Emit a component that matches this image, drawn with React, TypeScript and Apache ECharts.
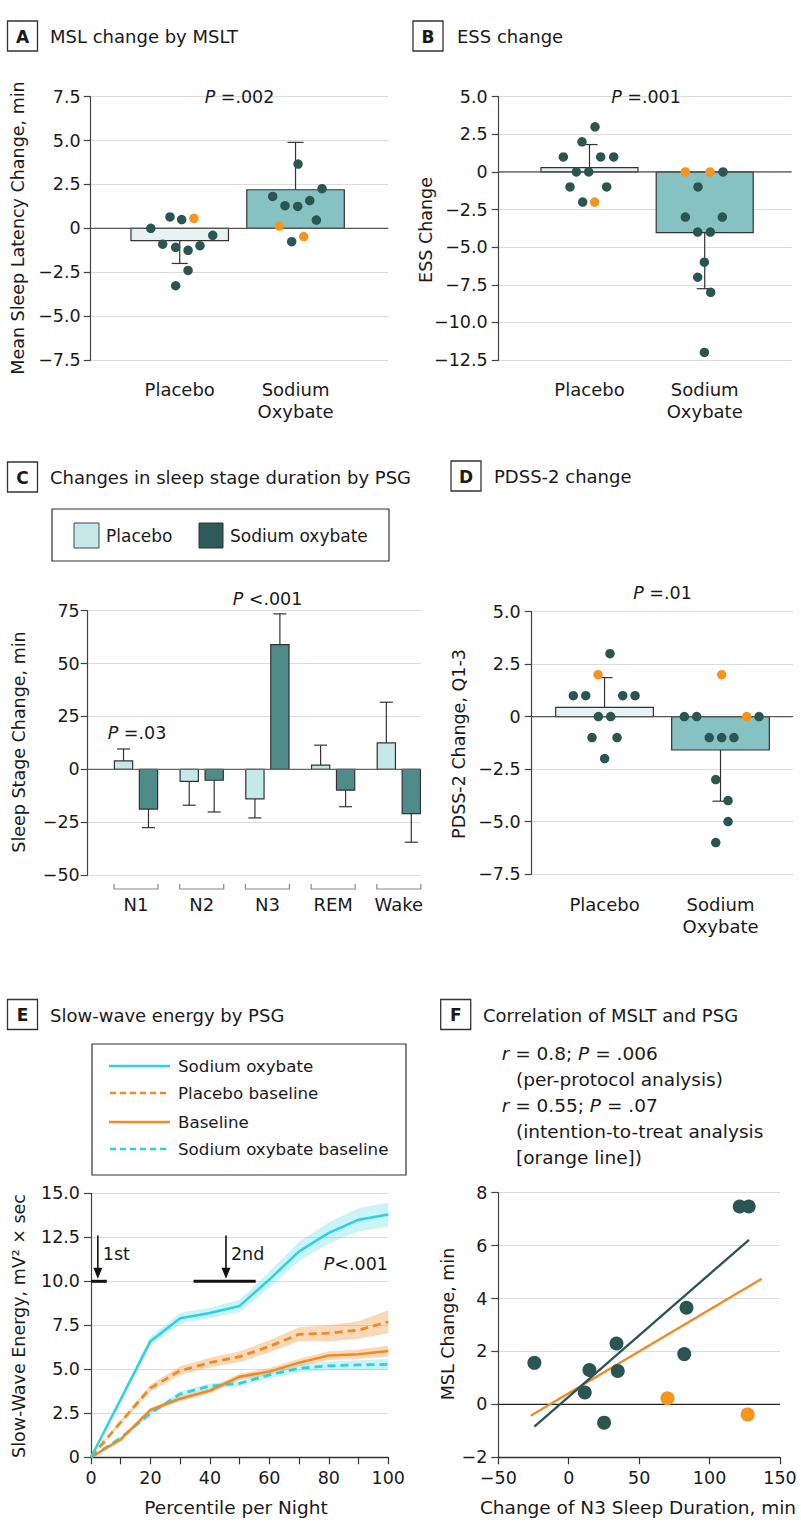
import React, { useEffect, useRef } from 'react';
import * as echarts from 'echarts';

// ---------------- data ----------------
const groupNames = ['Placebo', 'Sodium\nOxybate'];

// Panel A – MSL change by MSLT
const aMeans = [-0.7, 2.2];
const aErrEnds = [-2.0, 4.9];
const aPlaceboDark = [0.0, 0.65, 0.5, -0.4, -0.9, -1.08, -1.25, -0.99, -2.4, -3.27];
const aPlaceboOrange = [0.57];
const aSodiumDark = [3.66, 1.82, 2.26, 1.29, 1.25, 1.58, 0.47, -0.76];
const aSodiumOrange = [0.13, -0.47];
const aPlaceboDarkJit = [-0.25, -0.084, 0.017, 0.285, -0.147, -0.035, 0.072, 0.175, 0.072, -0.035];
const aPlaceboOrangeJit = [0.123];
const aSodiumDarkJit = [0.022, -0.197, 0.229, -0.091, 0.019, 0.123, 0.18, -0.033];
const aSodiumOrangeJit = [-0.14, 0.071];

// Panel B – ESS change
const bMeans = [0.29, -4.04];
const bErrEnds = [1.82, -7.76];
const bPlaceboDark = [3, 2, 1, 1, 1, 0, 0, -1, -1, -2];
const bPlaceboOrange = [-2];
const bSodiumDark = [0, -1, -3, -3, -4, -4, -6, -7, -8, -12];
const bSodiumOrange = [0, 0];
const bPlaceboDarkJit = [0.048, -0.065, -0.227, 0.097, 0.21, -0.114, -0.007, -0.169, 0.149, -0.059];
const bPlaceboOrangeJit = [0.045];
const bSodiumDarkJit = [0.159, -0.058, -0.168, 0.153, -0.061, 0.049, -0.003, -0.061, 0.052, -0.003];
const bSodiumOrangeJit = [-0.168, 0.046];

// Panel C – sleep stage changes
const cStages = ['N1', 'N2', 'N3', 'REM', 'Wake'];
const cPlaceboMean = [4, -5.7, -14, 2, 12.5];
const cPlaceboErr = [9.6, -17, -23, 11.4, 31.7];
const cSodiumMean = [-18.8, -5.2, 59, -9.9, -21];
const cSodiumErr = [-27.6, -20.2, 73.5, -17.7, -34.5];

// Panel D – PDSS-2 change
const dMeans = [0.44, -1.59];
const dErrEnds = [1.86, -4.03];
const dPlaceboDark = [3, 1, 1, 1, 1, 0, 0, -1, -1, -2];
const dPlaceboOrange = [2];
const dSodiumDark = [0, 0, 0, -1, -1, -1, -3, -4, -5, -6];
const dSodiumOrange = [2, 0];
const dPlaceboDarkJit = [0.047, -0.269, -0.162, 0.157, 0.263, -0.053, 0.053, -0.108, 0.108, 0.001];
const dPlaceboOrangeJit = [-0.056];
const dSodiumDarkJit = [-0.312, -0.205, 0.332, -0.097, 0.01, 0.116, -0.041, 0.065, 0.065, -0.041];
const dSodiumOrangeJit = [0.01, 0.226];

// Panel E – slow-wave energy
const ePct = [0, 10, 20, 30, 40, 50, 60, 70, 80, 90, 100];
const eSodium = [0, 3.3, 6.6, 7.9, 8.2, 8.6, 10.1, 11.7, 12.75, 13.5, 13.8];
const eSodiumSE = [0, 0.15, 0.25, 0.3, 0.3, 0.35, 0.45, 0.55, 0.6, 0.65, 0.68];
const ePlaceboBase = [0, 2.0, 3.94, 4.92, 5.38, 5.72, 6.3, 6.99, 7.05, 7.23, 7.7];
const ePlaceboBaseSE = [0, 0.12, 0.2, 0.25, 0.28, 0.3, 0.35, 0.4, 0.45, 0.5, 0.65];
const eBaseline = [0, 1.02, 2.69, 3.33, 3.79, 4.58, 4.87, 5.38, 5.78, 5.85, 6.04];
const eBaselineSE = [0, 0.08, 0.12, 0.15, 0.15, 0.18, 0.2, 0.22, 0.25, 0.27, 0.3];
const eSodiumBase = [0, 1.1, 2.5, 3.6, 4.05, 4.2, 4.68, 5.05, 5.2, 5.25, 5.28];
const eSodiumBaseSE = [0, 0.08, 0.12, 0.15, 0.15, 0.18, 0.2, 0.22, 0.25, 0.27, 0.3];
const eDoseArrowX = [2.3, 45.4];
const eDoseWindowStart = [0, 34.5];
const eDoseWindowEnd = [5.3, 55.4];
const eDoseLabels = ['1st', '2nd'];

// Panel F – correlation
const fDarkN3 = [-24.4, 14.7, 11.4, 33.9, 34.8, 25.1, 82, 83.6, 121.4, 127.8];
const fDarkMSL = [1.57, 1.3, 0.45, 2.3, 1.26, -0.69, 1.9, 3.65, 7.48, 7.48];
const fOrangeN3 = [70.1, 127];
const fOrangeMSL = [0.23, -0.38];
const fPerProtocolFit = [[-24.4, -0.84], [128, 6.22]];
const fIttFit = [[-27, -0.43], [137, 4.75]];

// ---------------- styles ----------------
const FONT = 'DejaVu Sans';
const INK = '#1a1a1a';
const AXIS = '#444';
const GRIDC = '#dcdcdc';
const DOT = '#2b5553';
const ORANGE = '#f7941d';
const CYAN = '#2bd3e2';
const ORANGE_LINE = '#f08a24';
const PLACEBO_FILL = '#e7f2f2';
const SODIUM_FILL = '#86c2c1';
const C_PLACEBO = '#c7e8e8';
const C_SODIUM = '#4f8b89';
const C_SODIUM_LEG = '#2e5a59';
const CYAN_BAND = 'rgba(43,211,226,0.25)';
const ORANGE_BAND = 'rgba(240,138,36,0.32)';
const TICK_FS = 17.5;

const A_X = [-0.7686, 1.801];
const B_X = [-0.788, 1.755];
const C_X = [-0.735, 4.333];
const D_X = [-0.628, 1.625];

const isZero = (v: number) => Math.abs(v) < 1e-9;
const fmt1 = (v: number) => (isZero(v) ? '0' : (v < 0 ? '\u2212' : '') + Math.abs(v).toFixed(1));
const fmt0 = (v: number) => (isZero(v) ? '0' : (v < 0 ? '\u2212' : '') + Math.abs(v).toFixed(0));

const dots = (g: number, vals: number[], jit: number[]) => vals.map((v, i) => [g + jit[i], v]);

function barRender(halfW: number, capPx: number, fills: string[] | string) {
  return (params: any, api: any) => {
    const x = api.value(0);
    const v = api.value(1);
    const e = api.value(2);
    const fill = Array.isArray(fills) ? fills[params.dataIndex] : fills;
    const p0 = api.coord([x - halfW, 0]);
    const p1 = api.coord([x + halfW, v]);
    const pv = api.coord([x, v]);
    const pe = api.coord([x, e]);
    return {
      type: 'group',
      children: [
        { type: 'line', shape: { x1: pv[0], y1: pv[1], x2: pe[0], y2: pe[1] }, style: { stroke: '#333', lineWidth: 1.2 } },
        { type: 'line', shape: { x1: pe[0] - capPx, y1: pe[1], x2: pe[0] + capPx, y2: pe[1] }, style: { stroke: '#333', lineWidth: 1.2 } },
        {
          type: 'rect',
          shape: {
            x: Math.min(p0[0], p1[0]),
            y: Math.min(p0[1], p1[1]),
            width: Math.abs(p1[0] - p0[0]),
            height: Math.abs(p1[1] - p0[1]),
          },
          style: { fill, stroke: '#333', lineWidth: 1.2 },
        },
      ],
    };
  };
}

const yAxisCfg = (gridIndex: number, min: number, max: number, interval: number, fmt: any, margin: number) => ({
  type: 'value',
  gridIndex,
  min,
  max,
  interval,
  axisLine: { show: true, onZero: false, lineStyle: { color: AXIS, width: 1.2 } },
  axisTick: { show: true, length: 7, lineStyle: { color: AXIS, width: 1.2 } },
  axisLabel: { fontSize: TICK_FS, color: INK, fontFamily: FONT, margin, formatter: fmt },
  splitLine: { show: true, lineStyle: { color: GRIDC, width: 1.2 } },
});

const catXAxis = (gridIndex: number, range: number[], names: string[], margin: number) => ({
  type: 'value',
  gridIndex,
  min: range[0],
  max: range[1],
  axisLine: { show: false, onZero: false },
  axisTick: { show: false },
  splitLine: { show: false },
  axisLabel: {
    customValues: names.map((_, i) => i),
    formatter: (v: number) => names[Math.round(v)] ?? '',
    fontSize: 18,
    lineHeight: 22,
    margin,
    color: INK,
    fontFamily: FONT,
  },
});

const zeroLine = (idx: number, range: number[], color = '#555') => ({
  type: 'line',
  xAxisIndex: idx,
  yAxisIndex: idx,
  data: [[range[0], 0], [range[1], 0]],
  symbol: 'none',
  lineStyle: { color, width: 1.3 },
  z: 3,
  silent: true,
});

const scatter = (idx: number, data: number[][], color: string, size: number) => ({
  type: 'scatter',
  xAxisIndex: idx,
  yAxisIndex: idx,
  data,
  symbolSize: size,
  itemStyle: { color, opacity: 1 },
  z: 4,
  silent: true,
});

const groupBars = (idx: number, means: number[], errs: number[]) => ({
  type: 'custom',
  xAxisIndex: idx,
  yAxisIndex: idx,
  data: means.map((m, i) => [i, m, errs[i]]),
  renderItem: barRender(0.421, 8, [PLACEBO_FILL, SODIUM_FILL]),
  z: 2,
  silent: true,
});

const eLine = (vals: number[], color: string, dashed: boolean) => ({
  type: 'line',
  xAxisIndex: 4,
  yAxisIndex: 4,
  data: ePct.map((x, i) => [x, vals[i]]),
  symbol: 'none',
  lineStyle: { color, width: dashed ? 2.8 : 2.5, type: dashed ? [8, 5] : 'solid' },
  z: 3,
  silent: true,
});

// ---------------- graphic helpers ----------------
const T = (x: number, y: number, text: string, extra: any = {}) => ({
  type: 'text',
  x,
  y,
  z: 20,
  style: {
    text,
    fontFamily: FONT,
    fontSize: 17,
    fill: INK,
    align: 'left',
    verticalAlign: 'middle',
    ...extra,
  },
});

const RT = (x: number, y: number, text: string, size: number, extra: any = {}) =>
  T(x, y, text, {
    fontSize: size,
    rich: {
      i: { fontStyle: 'italic', fontSize: size, fontFamily: FONT, fill: INK },
      n: { fontSize: size, fontFamily: FONT, fill: INK },
    },
    ...extra,
  });

const VT = (x: number, y: number, text: string, size: number) => ({
  type: 'text',
  x,
  y,
  rotation: Math.PI / 2,
  z: 20,
  style: { text, fontFamily: FONT, fontSize: size, fill: INK, align: 'center', verticalAlign: 'middle' },
});

const panelHead = (x: number, y: number, letter: string, title: string, tx: number) => [
  { type: 'rect', z: 20, shape: { x, y, width: 30, height: 30 }, style: { fill: '#fff', stroke: '#333', lineWidth: 1.3 } },
  T(x + 15, y + 15.5, letter, { fontWeight: 'bold', align: 'center' }),
  T(tx, y + 15.5, title, { fontSize: 18 }),
];

export default function App() {
  const ref = useRef<HTMLDivElement>(null);

  useEffect(() => {
    if (!ref.current) return;
    const chart = echarts.init(ref.current, undefined, { renderer: 'svg' });

    const grids = [
      { left: 90.7, top: 96.7, width: 297.6, height: 263.3 },
      { left: 498.7, top: 96.7, width: 293, height: 263.3 },
      { left: 87.7, top: 610.7, width: 333, height: 264.3 },
      { left: 531.7, top: 611.7, width: 261.3, height: 262.3 },
      { left: 91, top: 1193.3, width: 297.3, height: 264 },
      { left: 498.3, top: 1192.7, width: 281.7, height: 264.6 },
    ].map((g) => ({ ...g, containLabel: false, outerBoundsMode: 'none' }));

    const xAxes = [
      catXAxis(0, A_X, groupNames, 18),
      catXAxis(1, B_X, groupNames, 18),
      catXAxis(2, C_X, cStages, 18),
      catXAxis(3, D_X, groupNames, 19),
      {
        type: 'value',
        gridIndex: 4,
        min: 0,
        max: 100,
        interval: 10,
        axisLine: { show: true, onZero: false, lineStyle: { color: '#333', width: 1.3 } },
        axisTick: { show: true, length: 7, lineStyle: { color: '#333', width: 1.2 } },
        axisLabel: {
          fontSize: TICK_FS,
          color: INK,
          fontFamily: FONT,
          margin: 12,
          formatter: (v: number) => (Math.round(v) % 20 === 0 ? String(Math.round(v)) : ''),
        },
        splitLine: { show: false },
      },
      {
        type: 'value',
        gridIndex: 5,
        min: -50,
        max: 150,
        interval: 50,
        axisLine: { show: true, onZero: false, lineStyle: { color: '#333', width: 1.3 } },
        axisTick: { show: true, length: 7, lineStyle: { color: '#333', width: 1.2 } },
        axisLabel: { fontSize: TICK_FS, color: INK, fontFamily: FONT, margin: 12, formatter: fmt0 },
        splitLine: { show: false },
      },
    ];

    const yAxes = [
      yAxisCfg(0, -7.5, 7.5, 2.5, fmt1, 10),
      yAxisCfg(1, -12.5, 5, 2.5, fmt1, 11),
      yAxisCfg(2, -50, 75, 25, fmt0, 8),
      yAxisCfg(3, -7.5, 5, 2.5, fmt1, 11),
      yAxisCfg(4, 0, 15, 2.5, fmt1, 11),
      yAxisCfg(5, -2, 8, 2, fmt0, 11),
    ];

    const cBarSeries = (means: number[], errs: number[], offset: number, fill: string) => ({
      type: 'custom',
      xAxisIndex: 2,
      yAxisIndex: 2,
      data: means.map((m, i) => [i + offset, m, errs[i]]),
      renderItem: barRender(0.139, 6.5, fill),
      z: 2,
      silent: true,
    });

    // confidence bands for panel E, drawn as polygons through the axis scales
    const bandMids = [eSodium, ePlaceboBase, eBaseline, eSodiumBase];
    const bandSEs = [eSodiumSE, ePlaceboBaseSE, eBaselineSE, eSodiumBaseSE];
    const bandColors = [CYAN_BAND, ORANGE_BAND, ORANGE_BAND, CYAN_BAND];

    const series: any[] = [
      // A
      groupBars(0, aMeans, aErrEnds),
      zeroLine(0, A_X),
      scatter(0, dots(0, aPlaceboDark, aPlaceboDarkJit), DOT, 9.5),
      scatter(0, dots(1, aSodiumDark, aSodiumDarkJit), DOT, 9.5),
      scatter(0, dots(0, aPlaceboOrange, aPlaceboOrangeJit), ORANGE, 9.5),
      scatter(0, dots(1, aSodiumOrange, aSodiumOrangeJit), ORANGE, 9.5),
      // B
      groupBars(1, bMeans, bErrEnds),
      zeroLine(1, B_X),
      scatter(1, dots(0, bPlaceboDark, bPlaceboDarkJit), DOT, 9.5),
      scatter(1, dots(1, bSodiumDark, bSodiumDarkJit), DOT, 9.5),
      scatter(1, dots(0, bPlaceboOrange, bPlaceboOrangeJit), ORANGE, 9.5),
      scatter(1, dots(1, bSodiumOrange, bSodiumOrangeJit), ORANGE, 9.5),
      // C
      cBarSeries(cPlaceboMean, cPlaceboErr, -0.19, C_PLACEBO),
      cBarSeries(cSodiumMean, cSodiumErr, 0.19, C_SODIUM),
      zeroLine(2, C_X, '#666'),
      {
        type: 'custom',
        xAxisIndex: 2,
        yAxisIndex: 2,
        clip: false,
        silent: true,
        data: cStages.map((_, i) => [i]),
        renderItem: (params: any, api: any) => {
          const i = api.value(0);
          const l = api.coord([i - 0.335, -50]);
          const r = api.coord([i + 0.335, -50]);
          const y0 = l[1] + 14;
          return {
            type: 'polyline',
            shape: { points: [[l[0], y0 - 5], [l[0], y0], [r[0], y0], [r[0], y0 - 5]] },
            style: { stroke: '#8a8a8a', lineWidth: 1.2, fill: null },
          };
        },
      },
      // D
      groupBars(3, dMeans, dErrEnds),
      zeroLine(3, D_X),
      scatter(3, dots(0, dPlaceboDark, dPlaceboDarkJit), DOT, 9.5),
      scatter(3, dots(1, dSodiumDark, dSodiumDarkJit), DOT, 9.5),
      scatter(3, dots(0, dPlaceboOrange, dPlaceboOrangeJit), ORANGE, 9.5),
      scatter(3, dots(1, dSodiumOrange, dSodiumOrangeJit), ORANGE, 9.5),
      // E bands
      {
        type: 'custom',
        xAxisIndex: 4,
        yAxisIndex: 4,
        silent: true,
        z: 1,
        data: bandMids.map((_, i) => [i]),
        renderItem: (params: any, api: any) => {
          const k = params.dataIndex;
          const mid = bandMids[k];
          const se = bandSEs[k];
          const upper = ePct.map((x, i) => api.coord([x, mid[i] + se[i]]));
          const lower = ePct.map((x, i) => api.coord([x, mid[i] - se[i]])).reverse();
          return {
            type: 'polygon',
            shape: { points: upper.concat(lower) },
            style: { fill: bandColors[k], stroke: null },
          };
        },
      },
      eLine(eSodiumBase, CYAN, true),
      eLine(eBaseline, ORANGE_LINE, false),
      eLine(ePlaceboBase, ORANGE_LINE, true),
      eLine(eSodium, CYAN, false),
      {
        type: 'custom',
        xAxisIndex: 4,
        yAxisIndex: 4,
        clip: false,
        silent: true,
        z: 5,
        data: eDoseArrowX.map((x, i) => [x, eDoseWindowStart[i], eDoseWindowEnd[i]]),
        renderItem: (params: any, api: any) => {
          const ax = api.value(0);
          const top = api.coord([ax, 12.6]);
          const tip = api.coord([ax, 10.15]);
          const b0 = api.coord([api.value(1), 10]);
          const b1 = api.coord([api.value(2), 10]);
          const ty = api.coord([ax, 11.55])[1];
          return {
            type: 'group',
            children: [
              { type: 'line', shape: { x1: top[0], y1: top[1], x2: tip[0], y2: tip[1] - 8 }, style: { stroke: '#111', lineWidth: 1.6 } },
              {
                type: 'polygon',
                shape: { points: [[tip[0] - 4.5, tip[1] - 11], [tip[0] + 4.5, tip[1] - 11], [tip[0], tip[1]]] },
                style: { fill: '#111' },
              },
              { type: 'line', shape: { x1: b0[0], y1: b0[1], x2: b1[0], y2: b1[1] }, style: { stroke: '#111', lineWidth: 3 } },
              {
                type: 'text',
                x: top[0] + 5,
                y: ty,
                style: { text: eDoseLabels[params.dataIndex], fontFamily: FONT, fontSize: 17.5, fill: INK, verticalAlign: 'middle', align: 'left' },
              },
            ],
          };
        },
      },
      // F
      zeroLine(5, [-50, 150], '#222'),
      {
        type: 'line',
        xAxisIndex: 5,
        yAxisIndex: 5,
        data: fIttFit,
        symbol: 'none',
        lineStyle: { color: ORANGE_LINE, width: 2.3 },
        z: 3,
        silent: true,
      },
      {
        type: 'line',
        xAxisIndex: 5,
        yAxisIndex: 5,
        data: fPerProtocolFit,
        symbol: 'none',
        lineStyle: { color: DOT, width: 2.3 },
        z: 3,
        silent: true,
      },
      scatter(5, fDarkN3.map((x, i) => [x, fDarkMSL[i]]), DOT, 14),
      scatter(5, fOrangeN3.map((x, i) => [x, fOrangeMSL[i]]), ORANGE, 14),
    ];

    const graphic: any[] = [
      ...panelHead(7.5, 21, 'A', 'MSL change by MSLT', 50),
      ...panelHead(413, 21, 'B', 'ESS change', 457),
      ...panelHead(7.5, 462, 'C', 'Changes in sleep stage duration by PSG', 50),
      ...panelHead(451, 461, 'D', 'PDSS-2 change', 494),
      ...panelHead(7.5, 999.5, 'E', 'Slow-wave energy by PSG', 50),
      ...panelHead(440.7, 999.5, 'F', 'Correlation of MSLT and PSG', 483),

      // P values
      RT(239.5, 97, '{i|P}{n| =.002}', 17.5, { align: 'center' }),
      RT(646, 97, '{i|P}{n| =.001}', 17.5, { align: 'center' }),
      RT(137, 733, '{i|P}{n| =.03}', 17.5, { align: 'center' }),
      RT(267.5, 599, '{i|P}{n| <.001}', 17.5, { align: 'center' }),
      RT(662.5, 593, '{i|P}{n| =.01}', 17.5, { align: 'center' }),
      RT(388, 1264, '{i|P}{n|<.001}', 17.5, { align: 'right' }),

      // axis titles
      VT(18, 228, 'Mean Sleep Latency Change, min', 17.5),
      VT(426, 230, 'ESS Change', 17.5),
      VT(19, 742, 'Sleep Stage Change, min', 17.5),
      VT(459, 744, 'PDSS-2 Change, Q1-3', 17.5),
      VT(19, 1326, 'Slow-Wave Energy, mV\u00B2 \u00D7 sec', 17.5),
      VT(448, 1324, 'MSL Change, min', 17.5),
      T(236, 1507, 'Percentile per Night', { fontSize: 18.5, align: 'center' }),
      T(638, 1507, 'Change of N3 Sleep Duration, min', { fontSize: 18.5, align: 'center' }),

      // legend C
      { type: 'rect', z: 20, shape: { x: 52, y: 509, width: 337, height: 52 }, style: { fill: '#fff', stroke: '#333', lineWidth: 1.2 } },
      { type: 'rect', z: 21, shape: { x: 74, y: 523, width: 25, height: 25 }, style: { fill: C_PLACEBO, stroke: '#444', lineWidth: 1 } },
      T(106, 536, 'Placebo', { fontSize: 17 }),
      { type: 'rect', z: 21, shape: { x: 199, y: 523, width: 24, height: 25 }, style: { fill: C_SODIUM_LEG, stroke: '#333', lineWidth: 1 } },
      T(230, 536, 'Sodium oxybate', { fontSize: 17 }),

      // legend E
      { type: 'rect', z: 20, shape: { x: 92, y: 1044, width: 314, height: 131 }, style: { fill: '#fff', stroke: '#333', lineWidth: 1.2 } },
      { type: 'line', z: 21, shape: { x1: 109, y1: 1066, x2: 170, y2: 1066 }, style: { stroke: CYAN, lineWidth: 2.5 } },
      { type: 'line', z: 21, shape: { x1: 110, y1: 1093, x2: 170, y2: 1093 }, style: { stroke: ORANGE_LINE, lineWidth: 2.5, lineDash: [6, 4] } },
      { type: 'line', z: 21, shape: { x1: 109, y1: 1122, x2: 170, y2: 1122 }, style: { stroke: ORANGE_LINE, lineWidth: 2.5 } },
      { type: 'line', z: 21, shape: { x1: 110, y1: 1149, x2: 170, y2: 1149 }, style: { stroke: CYAN, lineWidth: 2.5, lineDash: [6, 4] } },
      T(178, 1066, 'Sodium oxybate', { fontSize: 16.7 }),
      T(178, 1093, 'Placebo baseline', { fontSize: 16.7 }),
      T(178, 1122, 'Baseline', { fontSize: 16.7 }),
      T(178, 1149, 'Sodium oxybate baseline', { fontSize: 16.7 }),

      // F annotations
      RT(501.7, 1053, '{i|r}{n| = 0.8; }{i|P}{n| = .006}', 18.5),
      T(516, 1079, '(per-protocol analysis)', { fontSize: 18.5 }),
      RT(501.7, 1105, '{i|r}{n| = 0.55; }{i|P}{n| = .07}', 18.5),
      T(516, 1131, '(intention-to-treat analysis', { fontSize: 18.5 }),
      T(516, 1157, '[orange line])', { fontSize: 18.5 }),
    ];

    chart.setOption({
      animation: false,
      backgroundColor: '#ffffff',
      textStyle: { fontFamily: FONT },
      grid: grids,
      xAxis: xAxes,
      yAxis: yAxes,
      series,
      graphic,
    });

    return () => chart.dispose();
  }, []);

  return (
    <div
      ref={ref}
      style={{ position: 'absolute', left: 0, top: 0, width: 801, height: 1536, background: '#fff' }}
    />
  );
}
